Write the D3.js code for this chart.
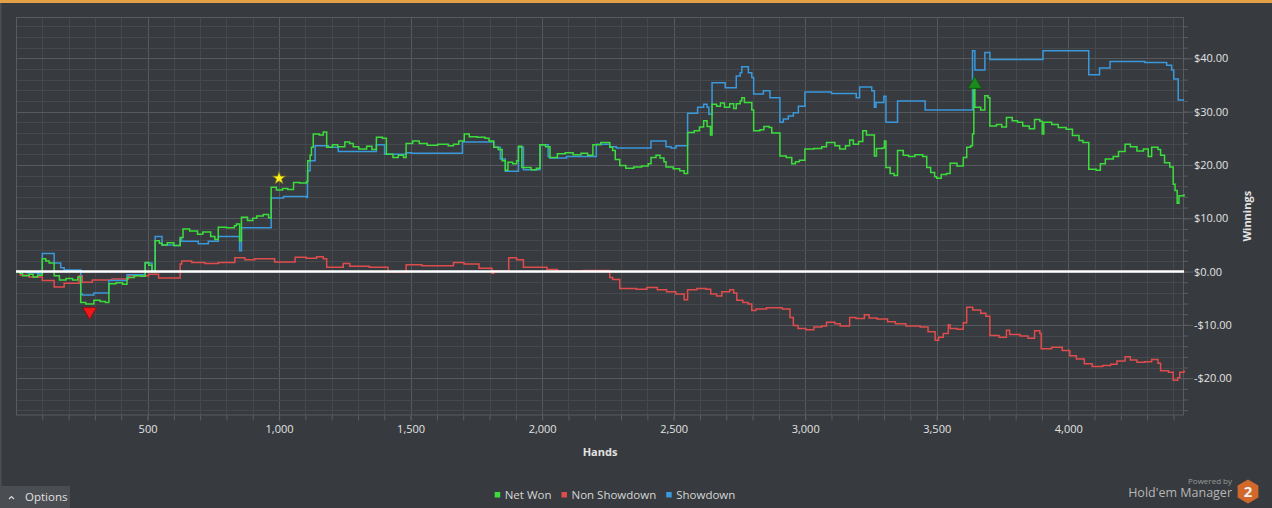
<!DOCTYPE html>
<html>
<head>
<meta charset="utf-8">
<script src="https://cdn.jsdelivr.net/npm/d3@7"></script>
<style>
  html, body { margin: 0; padding: 0; background: #373a3e; overflow: hidden; }
  svg { display: block; font-family: "Open Sans", "Noto Sans", sans-serif; }
</style>
</head>
<body>
<script>
// hands / winnings
var netWon = [[0,0],[15,-0.3],[25,-0.8],[50,-0.5],[65,-1.0],[82,-0.7],[100,2.4],[113,2.0],[126,1.6],[145,-0.8],[165,-1.6],[190,-1.3],[215,-1.6],[235,-1.0],[246,-5.8],[265,-6.1],[296,-5.4],[320,-5.6],[340,-5.8],[353,-2.3],[380,-2.1],[405,-2.4],[422,-1.1],[450,-0.8],[475,-0.9],[491,1.7],[505,1.2],[517,0.0],[529,5.8],[545,5.3],[555,5.0],[575,5.4],[600,4.9],[624,6.4],[635,8.0],[660,7.6],[690,7.0],[710,7.4],[740,6.6],[756,6.0],[769,8.3],[800,8.2],[830,8.6],[838,8.9],[850,5.8],[857,10.2],[880,9.6],[900,10.0],[915,10.4],[940,10.7],[960,10.1],[970,15.8],[990,15.3],[1013,15.6],[1033,15.4],[1055,16.7],[1078,16.6],[1105,16.9],[1109,20.8],[1118,21.8],[1123,23.3],[1130,25.8],[1153,25.6],[1168,26.2],[1181,23.3],[1203,23.8],[1223,23.4],[1250,24.3],[1268,24.0],[1282,23.4],[1303,23.0],[1333,23.5],[1353,22.9],[1370,25.2],[1393,25.0],[1408,22.0],[1433,21.4],[1453,21.8],[1473,21.4],[1483,24.0],[1508,24.5],[1533,24.0],[1563,23.7],[1603,23.9],[1643,23.6],[1663,23.9],[1683,24.5],[1704,25.8],[1723,25.3],[1753,25.2],[1783,25.0],[1798,24.5],[1816,23.3],[1833,22.9],[1848,20.8],[1860,19.0],[1870,20.5],[1888,20.2],[1903,20.8],[1910,23.5],[1923,19.5],[1958,19.1],[1978,19.4],[1992,23.8],[2013,23.4],[2030,21.4],[2058,22.1],[2088,22.3],[2118,21.9],[2148,22.2],[2173,21.8],[2193,23.8],[2223,24.2],[2257,23.3],[2268,22.7],[2278,21.0],[2295,19.9],[2318,19.4],[2348,19.6],[2378,19.8],[2403,20.2],[2414,21.4],[2433,21.8],[2448,21.3],[2463,20.6],[2471,19.6],[2498,19.3],[2523,18.9],[2540,18.4],[2553,26.1],[2578,26.4],[2598,27.1],[2614,28.3],[2627,27.2],[2640,25.6],[2646,31.4],[2663,31.0],[2678,31.6],[2693,30.8],[2713,31.5],[2728,30.6],[2738,31.5],[2753,32.0],[2759,32.6],[2769,31.7],[2797,30.3],[2804,26.4],[2828,26.6],[2843,27.2],[2863,27.0],[2873,26.0],[2904,21.7],[2928,21.4],[2949,20.2],[2963,20.6],[2978,20.9],[2999,23.0],[3033,23.1],[3063,23.4],[3081,24.2],[3113,23.6],[3131,23.0],[3153,23.6],[3169,24.7],[3183,23.9],[3203,24.4],[3219,26.4],[3233,25.6],[3263,21.7],[3271,23.1],[3293,23.2],[3301,24.5],[3307,19.5],[3323,18.4],[3338,18.0],[3351,22.7],[3373,21.8],[3393,21.6],[3417,21.9],[3447,21.6],[3462,19.5],[3477,18.6],[3492,17.8],[3500,17.5],[3517,18.2],[3537,18.4],[3551,20.3],[3577,19.8],[3601,21.4],[3614,23.3],[3629,23.6],[3636,25.8],[3641,34.5],[3645,30.8],[3667,30.3],[3683,33.0],[3695,32.6],[3702,27.3],[3727,27.6],[3747,27.1],[3765,28.9],[3787,28.3],[3807,28.0],[3827,27.3],[3852,26.8],[3872,28.5],[3892,28.2],[3901,25.8],[3907,28.0],[3937,27.6],[3962,27.0],[3992,26.7],[4016,25.5],[4041,24.6],[4056,24.2],[4078,19.2],[4106,19.0],[4122,20.2],[4141,21.1],[4171,21.6],[4191,22.5],[4216,23.9],[4236,23.4],[4261,22.6],[4286,23.0],[4304,21.6],[4317,23.3],[4341,22.9],[4351,21.8],[4366,20.4],[4386,19.6],[4399,16.4],[4406,15.2],[4414,12.8],[4421,14.2],[4440,14.5]];

var showdown = [[0,0],[40,-0.2],[82,-0.4],[100,3.4],[145,1.6],[170,0.7],[183,0.3],[246,-4.2],[252,-4.4],[296,-4.0],[353,-1.7],[422,-0.6],[491,1.6],[517,0.0],[529,6.6],[555,5.0],[600,4.9],[624,6.1],[630,5.7],[693,5.2],[731,5.7],[769,6.6],[850,3.9],[857,8.2],[970,13.8],[1017,14.1],[1105,13.9],[1108,18.9],[1118,20.8],[1137,23.6],[1187,23.3],[1225,22.5],[1370,23.8],[1401,22.0],[1483,22.3],[1503,22.2],[1697,24.3],[1816,23.3],[1841,21.1],[1860,18.8],[1910,23.3],[1929,19.1],[1992,23.8],[2023,21.6],[2028,21.3],[2093,21.6],[2206,23.9],[2257,23.4],[2282,23.2],[2414,24.5],[2471,23.4],[2490,23.2],[2509,23.6],[2553,29.7],[2591,30.8],[2614,31.4],[2627,30.8],[2634,29.5],[2646,35.4],[2696,34.5],[2738,36.7],[2753,37.3],[2759,38.4],[2784,37.3],[2797,36.4],[2804,33.3],[2841,33.9],[2866,32.6],[2904,28.0],[2917,28.6],[2936,29.2],[2955,29.8],[2974,31.0],[2999,33.7],[3100,33.4],[3194,32.6],[3207,34.6],[3253,33.9],[3263,30.8],[3269,31.7],[3299,32.9],[3307,28.0],[3351,32.0],[3456,30.3],[3636,41.4],[3645,37.8],[3683,41.1],[3702,39.8],[3904,41.4],[4078,36.9],[4119,38.2],[4159,39.4],[4291,39.2],[4374,38.7],[4393,37.8],[4401,36.1],[4418,32.2],[4440,32.2]];

var nonShowdown = [[0,0],[16,-0.7],[50,-1.0],[100,-1.7],[145,-2.9],[183,-2.2],[240,-0.8],[252,-2.0],[290,-1.6],[365,-1.4],[428,-0.8],[504,-0.5],[542,-1.2],[624,1.4],[630,2.0],[668,1.7],[718,1.5],[769,1.7],[832,2.6],[870,2.2],[907,2.4],[983,1.8],[1061,2.7],[1103,2.5],[1143,2.8],[1168,2.4],[1181,0.8],[1244,1.5],[1269,1.0],[1343,0.8],[1414,-0.1],[1483,1.3],[1543,1.1],[1663,1.7],[1703,1.4],[1760,0.6],[1809,-0.3],[1816,0.1],[1873,2.6],[1903,2.2],[1929,0.8],[2018,0.4],[2058,0.1],[2158,0.2],[2257,-1.1],[2268,-1.5],[2295,-3.2],[2358,-3.3],[2398,-3.0],[2438,-3.4],[2473,-3.8],[2508,-4.2],[2540,-5.3],[2553,-3.4],[2588,-3.2],[2623,-3.3],[2641,-4.2],[2663,-4.6],[2683,-3.8],[2713,-3.4],[2728,-4.0],[2740,-5.4],[2763,-5.8],[2783,-6.1],[2797,-7.3],[2813,-7.0],[2853,-6.8],[2913,-7.0],[2942,-8.6],[2955,-10.1],[2973,-10.7],[3003,-10.9],[3033,-10.4],[3063,-10.2],[3081,-9.5],[3113,-9.8],[3133,-10.2],[3169,-8.6],[3193,-8.8],[3225,-8.1],[3243,-8.7],[3273,-8.9],[3313,-9.4],[3343,-9.8],[3383,-10.2],[3437,-10.4],[3467,-11.3],[3494,-12.9],[3507,-12.3],[3525,-11.6],[3544,-10.0],[3551,-10.7],[3577,-10.8],[3601,-9.6],[3614,-6.7],[3637,-7.2],[3667,-7.8],[3687,-8.4],[3702,-12.0],[3737,-12.3],[3765,-11.0],[3777,-11.8],[3817,-12.1],[3847,-12.5],[3872,-11.1],[3892,-11.6],[3897,-14.5],[3937,-14.2],[3977,-14.8],[4006,-15.8],[4031,-16.4],[4061,-17.3],[4091,-17.8],[4131,-17.6],[4161,-17.4],[4185,-16.8],[4216,-16.0],[4236,-16.6],[4261,-17.0],[4291,-16.9],[4317,-16.5],[4341,-17.2],[4351,-18.6],[4381,-18.9],[4399,-20.4],[4416,-19.9],[4424,-18.9],[4440,-18.5]];

var seriesNames = ["Net Won", "Non Showdown", "Showdown"];
var seriesColors = ["#3ddc3d", "#e04c4c", "#3a98dc"];

// markers: [hand, value, kind]
var markers = [[1000, 17.5, "star"], [280, -7.5, "low"], [3645, 35.1, "high"]];

var xTicksMajor = [500, 1000, 1500, 2000, 2500, 3000, 3500, 4000];
var yTicksMajor = [-20, -10, 0, 10, 20, 30, 40];

var W = 1272, H = 508;
var plotL = 16, plotR = 1184, plotT = 17, plotB = 415.5;

var svg = d3.select("body").append("svg")
    .attr("width", W)
    .attr("height", H);

svg.append("rect").attr("width", W).attr("height", H).attr("fill", "#373a3e");
svg.append("rect").attr("x", 0).attr("y", 0).attr("width", W).attr("height", 3).attr("fill", "#e4a044");
svg.append("rect").attr("x", 0).attr("y", 3).attr("width", 1.5).attr("height", H).attr("fill", "#4c4f53");

var x = d3.scaleLinear().domain([0, 4440]).range([plotL, plotR]);
var y = d3.scaleLinear().domain([-27.0, 47.75]).range([plotB, plotT]);

var xMinor = d3.range(100, 4440, 100);
var yMinor = d3.range(-26, 48, 2);

// grid
var grid = svg.append("g");
grid.selectAll(".vx").data(xMinor).enter().append("line")
    .attr("x1", function(d) { return Math.round(x(d)) + 0.5; })
    .attr("x2", function(d) { return Math.round(x(d)) + 0.5; })
    .attr("y1", plotT).attr("y2", plotB)
    .attr("stroke", function(d) { return d % 500 == 0 ? "#56595d" : "#45484c"; });
grid.selectAll(".hy").data(yMinor).enter().append("line")
    .attr("y1", function(d) { return Math.round(y(d)) + 0.5; })
    .attr("y2", function(d) { return Math.round(y(d)) + 0.5; })
    .attr("x1", plotL).attr("x2", plotR)
    .attr("stroke", function(d) { return d % 10 == 0 ? "#56595d" : "#45484c"; });

svg.append("rect")
    .attr("x", plotL + 0.5).attr("y", plotT + 0.5)
    .attr("width", plotR - plotL - 1).attr("height", plotB - plotT - 1)
    .attr("fill", "none").attr("stroke", "#585b5f");

// axes
var xAxisMinor = d3.axisBottom(x).tickValues(xMinor).tickSize(5).tickFormat("");
var xAxisMajor = d3.axisBottom(x).tickValues(xTicksMajor).tickSize(5).tickPadding(5)
    .tickFormat(d3.format(","));
var gx1 = svg.append("g").attr("transform", "translate(0," + plotB + ")").call(xAxisMinor);
var gx2 = svg.append("g").attr("transform", "translate(0," + plotB + ")").call(xAxisMajor);

var money = function(v) { return (v < 0 ? "-$" : "$") + Math.abs(v).toFixed(2); };
var yAxisMinor = d3.axisRight(y).tickValues(yMinor).tickSize(4).tickFormat("");
var yAxisMajor = d3.axisRight(y).tickValues(yTicksMajor).tickSize(9).tickPadding(1).tickFormat(money);
var gy1 = svg.append("g").attr("transform", "translate(" + plotR + ",0)").call(yAxisMinor);
var gy2 = svg.append("g").attr("transform", "translate(" + plotR + ",0)").call(yAxisMajor);

[gx1, gx2, gy1, gy2].forEach(function(g) {
  g.select(".domain").remove();
  g.selectAll(".tick line").attr("stroke", "#5a5d61");
  g.selectAll(".tick text").attr("fill", "#e2e2e2").attr("font-size", 11)
    .attr("font-family", "'Open Sans', 'Noto Sans', sans-serif");
});

svg.append("text").attr("x", (plotL + plotR) / 2).attr("y", 456)
    .attr("text-anchor", "middle").attr("font-size", 11).attr("font-weight", "bold")
    .attr("fill", "#e2e2e2").text("Hands");
svg.append("text").attr("transform", "translate(1251," + ((plotT + plotB) / 2) + ") rotate(-90)")
    .attr("text-anchor", "middle").attr("font-size", 11).attr("font-weight", "bold")
    .attr("fill", "#e2e2e2").text("Winnings");

// lines
var line = d3.line()
    .x(function(d) { return x(d[0]); })
    .y(function(d) { return y(d[1]); })
    .curve(d3.curveStepAfter);

var series = [nonShowdown, showdown, netWon];
var colorOf = [seriesColors[1], seriesColors[2], seriesColors[0]];
var plot = svg.append("g");
for (var i = 0; i < series.length; i++) {
  plot.append("path")
      .datum(series[i])
      .attr("d", line)
      .attr("fill", "none")
      .attr("stroke", colorOf[i])
      .attr("stroke-width", 1.5)
      .attr("stroke-linejoin", "miter");
}

// zero line
plot.append("line")
    .attr("x1", plotL).attr("x2", plotR)
    .attr("y1", y(0)).attr("y2", y(0))
    .attr("stroke", "#ffffff").attr("stroke-width", 2.5);

// markers
var sym = svg.append("g");
markers.forEach(function(m) {
  var g = sym.append("path")
      .attr("transform", "translate(" + x(m[0]) + "," + y(m[1]) + ")" + (m[2] == "low" ? " rotate(180)" : ""));
  if (m[2] == "star") {
    g.attr("d", d3.symbol().type(d3.symbolStar).size(55)())
     .attr("fill", "#fff01e").attr("stroke", "#6d6a1c").attr("stroke-width", 0.8);
  } else if (m[2] == "low") {
    g.attr("d", d3.symbol().type(d3.symbolTriangle).size(80)())
     .attr("fill", "#f01818").attr("stroke", "#8e1010").attr("stroke-width", 1);
  } else {
    g.attr("d", d3.symbol().type(d3.symbolTriangle).size(80)())
     .attr("fill", "#1d8a1d").attr("stroke", "#0f5a0f").attr("stroke-width", 1);
  }
});

// legend
var legend = svg.append("g");
var lx = 0;
for (var k = 0; k < seriesNames.length; k++) {
  var it = legend.append("g");
  it.append("rect").attr("x", 0).attr("y", -3).attr("width", 5.5).attr("height", 5.5).attr("fill", seriesColors[k]);
  var t = it.append("text").attr("x", 10).attr("y", 4).attr("font-size", 11.5)
      .attr("fill", "#d6d6d6").text(seriesNames[k]);
  it.attr("transform", "translate(" + lx + ",0)");
  lx += 10 + t.node().getComputedTextLength() + 10;
}
var lw = lx - 10;
legend.attr("transform", "translate(" + (615 - lw / 2) + ",495)");

// options button
svg.append("rect").attr("x", 0).attr("y", 486).attr("width", 70).attr("height", 22).attr("fill", "#4a4d51");
svg.append("path").attr("d", "M9,499 L11.5,496.5 L14,499").attr("fill", "none")
    .attr("stroke", "#d8d8d8").attr("stroke-width", 1.2);
svg.append("text").attr("x", 25).attr("y", 501).attr("font-size", 11.5)
    .attr("fill", "#e0e0e0").text("Options");

// logo
svg.append("text").attr("x", 1232).attr("y", 484).attr("text-anchor", "end")
    .attr("font-size", 8).attr("fill", "#9a9a9a").text("Powered by");
svg.append("text").attr("x", 1232).attr("y", 497).attr("text-anchor", "end")
    .attr("font-size", 12.5).attr("fill", "#b6b6b6").text("Hold'em Manager");
var hex = d3.range(6).map(function(i) {
  var a = Math.PI / 3 * i - Math.PI / 2;
  return [1248 + 12 * Math.cos(a), 491.5 + 12 * Math.sin(a)];
});
svg.append("path").attr("d", "M" + hex.join("L") + "Z").attr("fill", "#d2692b");
svg.append("text").attr("x", 1248).attr("y", 497).attr("text-anchor", "middle")
    .attr("font-size", 15).attr("font-weight", "bold").attr("fill", "#f2f2f2").text("2");
</script>
</body>
</html>
